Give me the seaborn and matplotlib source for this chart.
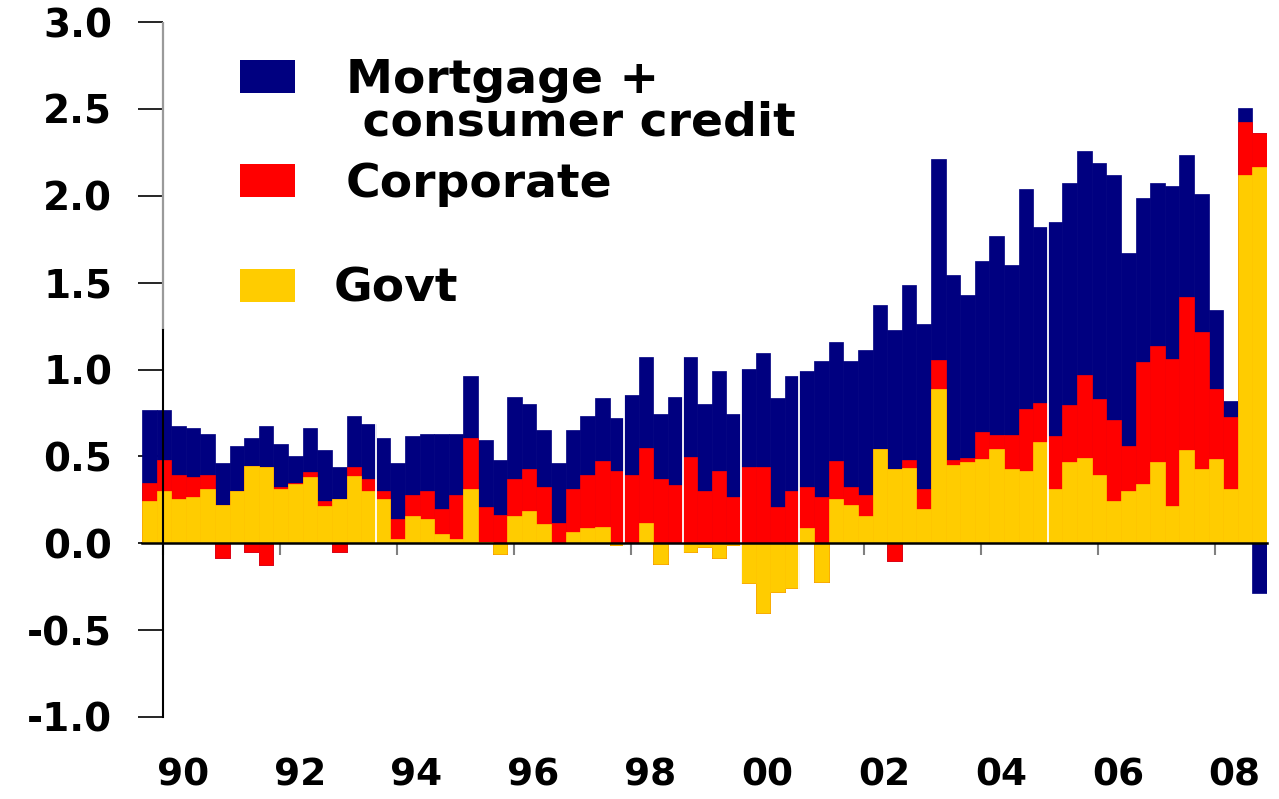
import numpy as np
import pandas as pd
import matplotlib
matplotlib.use("Agg")
import matplotlib.pyplot as plt
from matplotlib.patches import Rectangle
import seaborn as sns

# ---------------- data (quarterly) ----------------
govt = [0.244, 0.30, 0.256, 0.267, 0.31, 0.223, 0.30, 0.446, 0.437, 0.315,
        0.342, 0.381, 0.215, 0.254, 0.388, 0.30, 0.254, 0.027, 0.154, 0.142,
        0.052, 0.027, 0.312, 0.01, -0.06, 0.154, 0.187, 0.108, 0.0, 0.062,
        0.085, 0.096, -0.01, 0.0, 0.119, -0.117, 0.0, -0.05, -0.02, -0.085,
        -0.01, -0.23, -0.40, -0.28, -0.256, 0.085, -0.221, 0.256, 0.221, 0.157,
        0.544, 0.425, 0.435, 0.199, 0.889, 0.448, 0.467, 0.483, 0.544, 0.425,
        0.416, 0.58, 0.31, 0.469, 0.492, 0.391, 0.243, 0.301, 0.343, 0.469,
        0.215, 0.536, 0.425, 0.483, 0.31, 2.121, 2.165]
corporate = [0.10, 0.18, 0.136, 0.114, 0.082, -0.085, 0.0, -0.05, -0.127, 0.008,
             0.004, 0.031, 0.029, -0.05, 0.049, 0.069, 0.046, 0.115, 0.125, 0.158,
             0.148, 0.252, 0.296, 0.20, 0.165, 0.215, 0.238, 0.215, 0.119, 0.25,
             0.307, 0.375, 0.413, 0.392, 0.431, 0.369, 0.337, 0.494, 0.30, 0.413,
             0.267, 0.437, 0.437, 0.21, 0.30, 0.238, 0.267, 0.215, 0.102, 0.121,
             0.0, -0.10, 0.042, 0.111, 0.168, 0.031, 0.025, 0.157, 0.077, 0.196,
             0.358, 0.228, 0.307, 0.328, 0.475, 0.44, 0.464, 0.258, 0.701, 0.665,
             0.846, 0.882, 0.791, 0.406, 0.418, 0.306, 0.195]
mortgage = [0.423, 0.286, 0.281, 0.282, 0.237, 0.237, 0.262, 0.162, 0.236, 0.248,
            0.158, 0.251, 0.294, 0.183, 0.294, 0.316, 0.308, 0.318, 0.34, 0.329,
            0.429, 0.35, 0.352, 0.384, 0.315, 0.475, 0.375, 0.329, 0.341, 0.34,
            0.339, 0.364, 0.306, 0.464, 0.521, 0.373, 0.507, 0.577, 0.50, 0.579,
            0.475, 0.567, 0.657, 0.625, 0.66, 0.669, 0.781, 0.689, 0.725, 0.835,
            0.83, 0.801, 1.008, 0.952, 1.154, 1.063, 0.939, 0.983, 1.149, 0.979,
            1.266, 1.01, 1.232, 1.278, 1.288, 1.357, 1.414, 1.111, 0.941, 0.941,
            0.993, 0.814, 0.794, 0.452, 0.09, 0.077, -0.287]
year_labels = ["90", "92", "94", "96", "98", "00", "02", "04", "06", "08"]
y_ticks = [-1.0, -0.5, 0.0, 0.5, 1.0, 1.5, 2.0, 2.5, 3.0]
legend_labels = ["Mortgage +\n consumer credit", "Corporate", "Govt"]

NAVY, RED, YELLOW = "#000080", "#FF0000", "#FFCC00"

sns.set_theme(style="white")
plt.rcParams["font.family"] = ["DejaVu Sans"]
plt.rcParams["font.weight"] = "bold"
plt.rcParams["axes.unicode_minus"] = False

W, H = 1279, 799
fig = plt.figure(figsize=(W / 100, H / 100), dpi=100, facecolor="white")
ax = fig.add_axes([142 / W, (H - 717) / H, 1125 / W, 695 / H])

df = pd.DataFrame({"q": np.arange(len(govt)), "govt": govt,
                   "corp": corporate, "mort": mortgage})
vals = df[["govt", "corp", "mort"]]
pos = vals.clip(lower=0)
neg = vals.clip(upper=0)

layers = [(NAVY, ["govt", "corp", "mort"]),
          (RED, ["govt", "corp"]),
          (YELLOW, ["govt"])]
for col, cols in layers:
    for part in (pos, neg):
        sns.barplot(x=df["q"], y=part[cols].sum(axis=1), color=col,
                    saturation=1, width=1.0, errorbar=None,
                    linewidth=0.5, edgecolor=col, ax=ax)

# thin white seams between some bars, as seen in the original rendering
for gx in (15.5, 32.5, 36.5, 40.5, 44.5, 61.5):
    ax.axvline(gx, color="white", lw=1.3, zorder=3)

# ---------------- axes styling ----------------
n = len(govt)
ax.set_xlim(-0.5, n - 0.5)
ax.set_ylim(-1, 3)
ax.set_xlabel("")
ax.set_ylabel("")

yaxis_x = 0.94
for s in ("top", "right"):
    ax.spines[s].set_visible(False)
ax.spines["left"].set_position(("data", yaxis_x))
ax.spines["left"].set_bounds(-1, 1.23)
ax.spines["left"].set_color("black")
ax.spines["left"].set_linewidth(1.5)
ax.spines["left"].set_zorder(4)
ax.plot([yaxis_x, yaxis_x], [1.23, 3.0], color="#9a9a9a", lw=1.6,
        zorder=4, solid_capstyle="butt", clip_on=False)
ax.spines["bottom"].set_position(("data", 0))
ax.spines["bottom"].set_color("black")
ax.spines["bottom"].set_linewidth(1.8)
ax.spines["bottom"].set_zorder(4)

ax.set_yticks(y_ticks, labels=[f"{v:.1f}" for v in y_ticks])
ax.tick_params(axis="y", direction="out", length=18, width=1.2,
               color="black", pad=18.5, labelsize=28, labelcolor="black", left=True)

tick_pos = yaxis_x + 8 * np.arange(len(year_labels))
ax.set_xticks(tick_pos, labels=[""] * len(year_labels))
ax.set_xticks(tick_pos + 1.35, labels=year_labels, minor=True)
ax.tick_params(axis="x", which="major", direction="out", length=8.5,
               width=1.5, color="#808080", bottom=True)
ax.tick_params(axis="x", which="minor", length=0, pad=154, labelsize=27,
               labelcolor="black", bottom=True)
for lab in ax.get_yticklabels() + ax.get_xticklabels(minor=True):
    lab.set_fontweight("bold")

# ---------------- legend (manual, as in the original) ----------------
colors = [NAVY, RED, YELLOW]
sq_bottoms = [93, 197, 302]
text_x = [346, 346, 334]
for lab, col, yb, tx in zip(legend_labels, colors, sq_bottoms, text_x):
    fig.add_artist(Rectangle((240 / W, 1 - yb / H), 55 / W, 33 / H,
                             transform=fig.transFigure, color=col, lw=0))
    for k, line in enumerate(lab.split("\n")):
        fig.text(tx / W, 1 - (yb + k * 42) / H, line, fontsize=34,
                 fontweight="bold", va="baseline", ha="left", color="black")

fig.savefig("out.png", dpi=100, facecolor="white")
